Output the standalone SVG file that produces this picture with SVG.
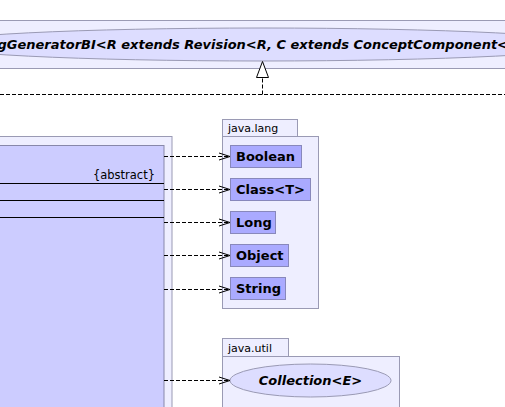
<svg xmlns="http://www.w3.org/2000/svg" width="505" height="407" viewBox="0 0 505 407">
<style>
.pkg{fill:#eeeeff;stroke:#9a9ab4;stroke-width:1}
.cls{fill:#ccccff;stroke:#8888aa;stroke-width:1}
.box{fill:#aaaaff;stroke:#8888bb;stroke-width:1}
.ell{fill:#ddddff;stroke:#9a9ab4;stroke-width:1}
.t{font-family:"DejaVu Sans",sans-serif;fill:#000}
.b{font-weight:bold;font-size:13px}
.bi{font-weight:bold;font-style:italic;font-size:13px}
.n{font-size:11px}
.dash{fill:none;stroke:#000;stroke-width:1;stroke-dasharray:4,2}
.sep{stroke:#000;stroke-width:1}
</style>
<defs>
<marker id="open" markerWidth="12" markerHeight="10" refX="11" refY="4.5" orient="auto" markerUnits="userSpaceOnUse">
<path d="M0,1 L11,4.5 L0,8" fill="none" stroke="#000" stroke-width="1"/>
</marker>
</defs>
<g id="top">
<rect class="pkg" x="-5" y="20.5" width="515" height="48"/>
<ellipse class="ell" cx="262" cy="44.5" rx="330" ry="16.5"/>
<text class="t bi" x="-2.5" y="49">gGeneratorBI&lt;R extends Revision&lt;R, C extends ConceptComponent&lt;</text>
</g>
<g id="main">
<rect class="pkg" x="-5" y="136.5" width="177" height="280"/>
<rect class="cls" x="-5" y="145.5" width="169" height="270"/>
<text class="t" font-size="11.5" x="155" y="179" text-anchor="end">{abstract}</text>
<line class="sep" x1="0" y1="183.5" x2="164" y2="183.5"/>
<line class="sep" x1="0" y1="200.5" x2="164" y2="200.5"/>
<line class="sep" x1="0" y1="217.5" x2="164" y2="217.5"/>
</g>
<g id="java.lang">
<rect class="pkg" x="222.5" y="119.5" width="75" height="17"/>
<rect class="pkg" x="222.5" y="136.5" width="96" height="172"/>
<text class="t n" x="228" y="132">java.lang</text>
</g>
<g id="Boolean"><rect class="box" x="230.5" y="145.5" width="71" height="22"/><text class="t b" x="236" y="161">Boolean</text></g>
<g id="Class"><rect class="box" x="230.5" y="178.5" width="80" height="22"/><text class="t b" x="236" y="194">Class&lt;T&gt;</text></g>
<g id="Long"><rect class="box" x="230.5" y="211.5" width="45" height="22"/><text class="t b" x="236" y="227">Long</text></g>
<g id="Object"><rect class="box" x="230.5" y="244.5" width="58" height="22"/><text class="t b" x="236" y="260">Object</text></g>
<g id="String"><rect class="box" x="230.5" y="277.5" width="55" height="22"/><text class="t b" x="236" y="293">String</text></g>
<g id="java.util">
<rect class="pkg" x="222.5" y="338.5" width="66" height="18"/>
<rect class="pkg" x="222.5" y="356.5" width="177" height="60"/>
<text class="t n" x="228" y="352">java.util</text>
</g>
<g id="Collection">
<ellipse class="ell" cx="310.5" cy="380.5" rx="80.5" ry="16.5"/>
<text class="t bi" x="310.5" y="385" text-anchor="middle">Collection&lt;E&gt;</text>
</g>
<g id="connectors">
<polyline class="dash" points="0,94.5 505,94.5"/>
<line class="dash" x1="262.5" y1="94.5" x2="262.5" y2="77.5"/>
<polygon points="262.5,61.5 256.5,77.5 268.5,77.5" fill="#fff" stroke="#000" stroke-width="1"/>
<line class="dash" x1="164" y1="156.5" x2="230" y2="156.5" marker-end="url(#open)"/>
<line class="dash" x1="164" y1="189.5" x2="230" y2="189.5" marker-end="url(#open)"/>
<line class="dash" x1="164" y1="222.5" x2="230" y2="222.5" marker-end="url(#open)"/>
<line class="dash" x1="164" y1="255.5" x2="230" y2="255.5" marker-end="url(#open)"/>
<line class="dash" x1="164" y1="289.5" x2="230" y2="289.5" marker-end="url(#open)"/>
<line class="dash" x1="164" y1="380.5" x2="230" y2="380.5" marker-end="url(#open)"/>
</g>
</svg>
